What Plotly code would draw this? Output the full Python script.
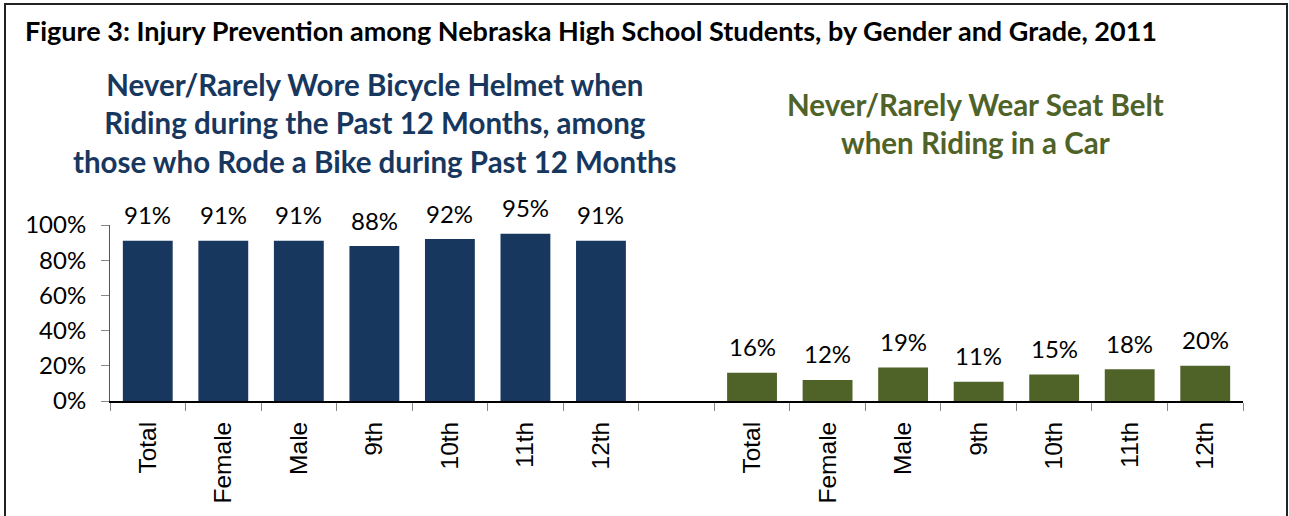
import plotly.graph_objects as go

categories = ["Total", "Female", "Male", "9th", "10th", "11th", "12th"]
helmet_values = [91, 91, 91, 88, 92, 95, 91]
seatbelt_values = [16, 12, 19, 11, 15, 18, 20]
y_ticks = [0, 20, 40, 60, 80, 100]

left_x = list(range(len(categories)))
right_x = [i + len(categories) + 1 for i in range(len(categories))]

NAVY = "#17375E"
GREEN = "#4F6228"

W, H = 1289, 516
L, R, T, B = 110, 46, 225, 115
pw = W - L - R
ph = H - T - B

def px2x(px):
    return (px - L) / pw

def py2y(py):
    return (H - B - py) / ph

fig = go.Figure()
for xs, vals, col in [(left_x, helmet_values, NAVY), (right_x, seatbelt_values, GREEN)]:
    fig.add_trace(go.Bar(
        x=xs, y=[v / 100 for v in vals], width=0.66,
        marker=dict(color=col, line=dict(width=0)),
        showlegend=False, hoverinfo="skip",
    ))
    for xi, v in zip(xs, vals):
        fig.add_annotation(
            x=xi, y=v / 100, xref="x", yref="y", text=f"{v}%",
            showarrow=False, yanchor="middle", yshift=26,
            font=dict(family="Lato", size=24, color="black"),
        )

n = 2 * len(categories) + 1
fig.update_xaxes(
    range=[-0.5, n - 0.5],
    tickvals=left_x + right_x,
    ticktext=categories + categories,
    tickangle=-90,
    ticks="",
    ticklabelstandoff=9,
    tickfont=dict(family="Liberation Sans", size=24.5, color="black"),
    showline=True, linecolor="black", linewidth=2,
    showgrid=False, zeroline=False,
    minor=dict(tickvals=[i - 0.5 for i in range(n + 1)], ticks="outside",
               ticklen=8, tickcolor="#888888", tickwidth=1, showgrid=False),
)
fig.update_yaxes(
    range=[0, 1],
    tickvals=[v / 100 for v in y_ticks],
    ticktext=[f"{v}%" for v in y_ticks],
    ticks="outside", ticklen=8, tickcolor="#888888",
    ticklabelstandoff=10,
    tickfont=dict(family="Lato", size=24, color="black"),
    showline=True, linecolor="#555555", linewidth=1,
    showgrid=False, zeroline=False,
)

fig.add_annotation(
    text="Never/Rarely Wore Bicycle Helmet when<br>Riding during the Past 12 Months, among<br>those who Rode a Bike during Past 12 Months",
    xref="paper", yref="paper", x=px2x(375), y=py2y(123), xanchor="center", yanchor="middle",
    showarrow=False, align="center",
    font=dict(family="Lato", size=29.5, color=NAVY, weight="bold"),
)
fig.add_annotation(
    text="Never/Rarely Wear Seat Belt<br>when Riding in a Car",
    xref="paper", yref="paper", x=px2x(975), y=py2y(124), xanchor="center", yanchor="middle",
    showarrow=False, align="center",
    font=dict(family="Lato", size=29.5, color=GREEN, weight="bold"),
)

fig.add_shape(type="rect", xref="paper", yref="paper",
              x0=px2x(5), x1=px2x(1287), y0=py2y(540), y1=py2y(4),
              line=dict(color="#222222", width=2), fillcolor="rgba(0,0,0,0)")

fig.update_layout(
    width=W, height=H,
    margin=dict(l=L, r=R, t=T, b=B),
    paper_bgcolor="white", plot_bgcolor="white",
    title=dict(
        text="Figure 3: Injury Prevention among Nebraska High School Students, by Gender and Grade, 2011",
        x=25 / W, xanchor="left", xref="container",
        y=1 - 32 / H, yanchor="middle", yref="container",
        font=dict(family="Lato", size=27, color="black", weight="bold"),
    ),
    bargap=0.34,
)

fig.write_html("out.html", config={"displayModeBar": False},
               post_script="document.body.style.margin='0';document.body.style.overflow='hidden';")
